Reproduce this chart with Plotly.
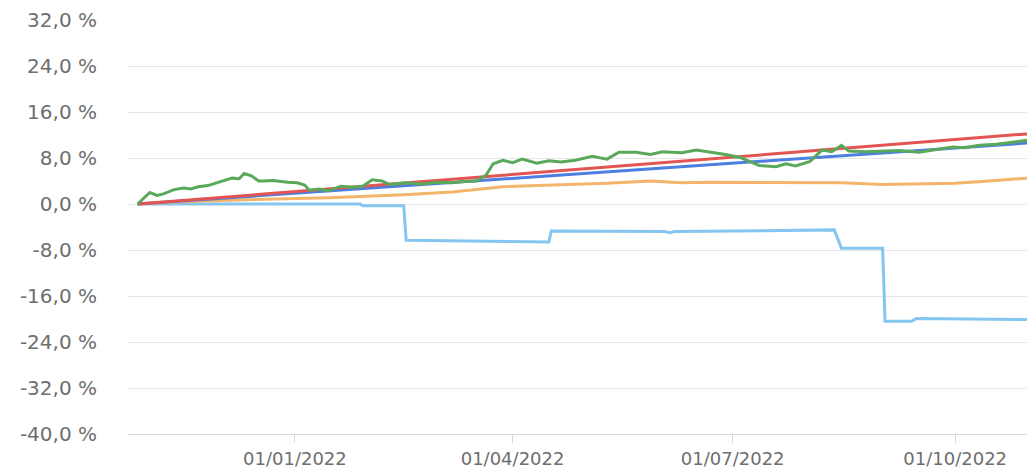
import plotly.graph_objects as go

# ---- data ----
green_dates = ["2021-10-28","2021-11-02","2021-11-05","2021-11-08","2021-11-12","2021-11-16","2021-11-19","2021-11-22",
               "2021-11-26","2021-12-01","2021-12-06","2021-12-09","2021-12-11","2021-12-14","2021-12-17","2021-12-19",
               "2021-12-23","2021-12-29","2022-01-02","2022-01-05","2022-01-07","2022-01-11","2022-01-15","2022-01-20",
               "2022-01-25","2022-01-29","2022-02-02","2022-02-06","2022-02-09","2022-02-16","2022-02-22","2022-03-01",
               "2022-03-07","2022-03-12","2022-03-17","2022-03-21","2022-03-24","2022-03-28","2022-04-01","2022-04-05",
               "2022-04-11","2022-04-16","2022-04-21","2022-04-27","2022-05-04","2022-05-10","2022-05-15","2022-05-22",
               "2022-05-28","2022-06-02","2022-06-10","2022-06-16","2022-06-23","2022-06-28","2022-07-04","2022-07-08",
               "2022-07-12","2022-07-19","2022-07-23","2022-07-27","2022-08-02","2022-08-07","2022-08-11","2022-08-15",
               "2022-08-18","2022-08-25","2022-09-01","2022-09-08","2022-09-16","2022-09-23","2022-09-30","2022-10-05",
               "2022-10-11","2022-10-18","2022-10-25","2022-10-31"]
green_vals = [0.0, 2.0, 1.5, 1.8, 2.5, 2.8, 2.6, 3.0,
              3.2, 3.8, 4.5, 4.4, 5.3, 4.9, 4.0, 4.0,
              4.1, 3.8, 3.7, 3.3, 2.4, 2.6, 2.3, 3.1,
              2.9, 3.1, 4.2, 4.0, 3.4, 3.7, 3.5, 3.8,
              3.7, 3.9, 4.0, 5.0, 7.0, 7.6, 7.2, 7.8,
              7.1, 7.5, 7.3, 7.6, 8.3, 7.8, 9.0, 9.0,
              8.6, 9.1, 8.9, 9.4, 9.0, 8.6, 8.1, 7.4,
              6.7, 6.5, 7.0, 6.6, 7.4, 9.4, 9.1, 10.2,
              9.2, 9.1, 9.2, 9.3, 9.0, 9.5, 9.9, 9.8,
              10.2, 10.4, 10.8, 11.1]

red_dates = ["2021-10-28", "2022-10-31"]
red_vals = [0.0, 12.2]

blue_dates = ["2021-10-28", "2022-10-31"]
blue_vals = [0.0, 10.6]

orange_dates = ["2021-10-28","2021-11-15","2021-12-15","2022-01-15","2022-02-15","2022-03-07","2022-03-28",
                "2022-04-15","2022-05-10","2022-05-28","2022-06-10","2022-06-21","2022-07-15","2022-08-15",
                "2022-09-01","2022-09-20","2022-10-01","2022-10-15","2022-10-31"]
orange_vals = [0.0, 0.4, 0.8, 1.1, 1.6, 2.1, 3.0,
               3.2, 3.6, 4.0, 3.7, 3.8, 3.7, 3.7,
               3.4, 3.5, 3.6, 4.0, 4.5]

lblue_dates = ["2021-10-28","2022-01-28","2022-01-29","2022-02-15","2022-02-16","2022-04-16","2022-04-17",
               "2022-06-03","2022-06-05","2022-06-07","2022-08-12","2022-08-15","2022-09-01","2022-09-02",
               "2022-09-13","2022-09-15","2022-10-31"]
lblue_vals = [0.0, 0.0, -0.3, -0.3, -6.3, -6.6, -4.7,
              -4.8, -5.0, -4.8, -4.5, -7.7, -7.7, -20.4,
              -20.4, -19.9, -20.1]

y_ticks = [-40, -32, -24, -16, -8, 0, 8, 16, 24, 32]
y_ticktext = ["-40,0 %", "-32,0 %", "-24,0 %", "-16,0 %", "-8,0 %", "0,0 %", "8,0 %", "16,0 %", "24,0 %", "32,0 %"]
x_ticks = ["2022-01-01", "2022-04-01", "2022-07-01", "2022-10-01"]
x_ticktext = ["01/01/2022", "01/04/2022", "01/07/2022", "01/10/2022"]

fig = go.Figure()
fig.add_trace(go.Scatter(x=lblue_dates, y=lblue_vals, mode="lines", line=dict(color="#84c6ef", width=3)))
fig.add_trace(go.Scatter(x=orange_dates, y=orange_vals, mode="lines", line=dict(color="#f5b46c", width=3)))
fig.add_trace(go.Scatter(x=blue_dates, y=blue_vals, mode="lines", line=dict(color="#4d7fe0", width=3)))
fig.add_trace(go.Scatter(x=red_dates, y=red_vals, mode="lines", line=dict(color="#e35552", width=3)))
fig.add_trace(go.Scatter(x=green_dates, y=green_vals, mode="lines", line=dict(color="#5aa95a", width=3)))

fig.update_layout(
    width=1027, height=463,
    margin=dict(l=120, r=0, t=12, b=37, autoexpand=False),
    plot_bgcolor="white", paper_bgcolor="white",
    showlegend=False,
    font=dict(family="DejaVu Sans", size=20, color="#6e6e6e"),
)
fig.update_xaxes(
    type="date", range=["2021-10-24", "2022-11-03"],
    tickvals=x_ticks, ticktext=x_ticktext, automargin=False,
    tickfont=dict(size=18),
    showgrid=False, showline=True, linecolor="#d9d9d9", linewidth=1,
    ticks="outside", ticklen=8, tickcolor="#d9d9d9", ticklabelstandoff=0,
)
fig.update_yaxes(
    range=[-40, 32], tickvals=y_ticks, ticktext=y_ticktext, automargin=False,
    showgrid=True, gridcolor="#e6e6e6", gridwidth=1, zeroline=False,
    ticklabelstandoff=30,
)
fig.write_html("out.html")
